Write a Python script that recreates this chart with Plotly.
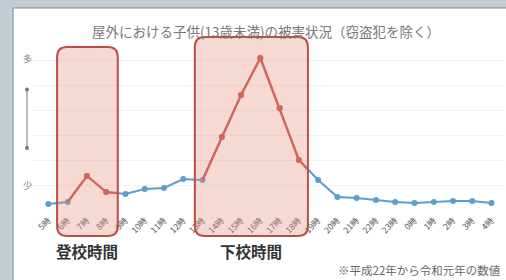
import numpy as np
import plotly.graph_objects as go

hours = ["5時", "6時", "7時", "8時", "9時", "10時", "11時", "12時", "13時", "14時", "15時", "16時",
         "17時", "18時", "19時", "20時", "21時", "22時", "23時", "0時", "1時", "2時", "3時", "4時"]
victims = [6, 8, 34, 18, 16, 21, 22, 31, 30, 73, 115, 152,
           102, 50, 30, 13, 12, 10, 8, 7, 8, 9, 9, 7]
title_text = "屋外における子供(13歳未満)の被害状況（窃盗犯を除く）"

W, H = 506, 280
ML, MR, MT, MB = 33, 1, 35, 72
XMIN, XMAX = -0.8, 23.7
YMIN, YMAX = 2, 175
PW, PH = W - ML - MR, H - MT - MB

idx = np.arange(len(hours))
vals = np.array(victims, dtype=float)

def fx(x):  # data x -> paper
    return (x - XMIN) / (XMAX - XMIN)

def px(x):  # pixel x -> paper
    return (x - ML) / PW

def py(y):  # pixel y -> paper
    return (H - MB - y) / PH

# highlight windows (in hour-index units)
morning = (0.45, 3.6)
evening = (7.6, 13.47)

def red_segment(a, b, start_idx, end_idx):
    xs = [a] if a < start_idx else []
    xs += list(range(start_idx, end_idx + 1))
    if b > end_idx:
        xs.append(b)
    xs = np.array(xs, dtype=float)
    return xs, np.interp(xs, idx, vals)

blue = "#5f9ec8"
red = "#d2473c"

fig = go.Figure()
fig.add_trace(go.Scatter(x=idx, y=vals, mode="lines+markers",
                         line=dict(color=blue, width=2.2),
                         marker=dict(color=blue, size=6), hoverinfo="skip"))
mx, my = red_segment(1, morning[1], 1, 3)
fig.add_trace(go.Scatter(x=mx, y=my, mode="lines", line=dict(color=red, width=2.2), hoverinfo="skip"))
fig.add_trace(go.Scatter(x=idx[2:4], y=vals[2:4], mode="markers", marker=dict(color=red, size=6), hoverinfo="skip"))
ex, ey = red_segment(8, evening[1], 8, 13)
fig.add_trace(go.Scatter(x=ex, y=ey, mode="lines", line=dict(color=red, width=2.2), hoverinfo="skip"))
fig.add_trace(go.Scatter(x=idx[9:14], y=vals[9:14], mode="markers", marker=dict(color=red, size=6), hoverinfo="skip"))

def rounded_rect(x0, x1, y0, y1, rx, ry):
    return (f"M {x0+rx},{y0} L {x1-rx},{y0} Q {x1},{y0} {x1},{y0+ry} "
            f"L {x1},{y1-ry} Q {x1},{y1} {x1-rx},{y1} L {x0+rx},{y1} "
            f"Q {x0},{y1} {x0},{y1-ry} L {x0},{y0+ry} Q {x0},{y0} {x0+rx},{y0} Z")

shapes = [
    dict(type="rect", xref="paper", yref="paper", x0=px(0), x1=px(W), y0=py(H), y1=py(0),
         fillcolor="#c3ccd4", line_width=0, layer="below"),
    dict(type="rect", xref="paper", yref="paper", x0=px(13), x1=px(W + 2), y0=py(H + 2), y1=py(8),
         fillcolor="white", line=dict(color="#7f8a93", width=1), layer="below"),
]
for (a, b), top_px in ((morning, 47), (evening, 37)):
    x0p, x1p = fx(a), fx(b)
    y1p, y0p = py(top_px), py(236)
    path = rounded_rect(x0p, x1p, y0p, y1p, 10 / PW, 10 / PH)
    shapes.append(dict(type="path", xref="paper", yref="paper", path=path,
                       fillcolor="rgba(234,150,135,0.36)", line=dict(color="#bb4f45", width=2),
                       layer="above"))

def note(text, x, y, size, color, xanchor="center"):
    return dict(text=text, x=x, y=y, xref="paper", yref="paper", showarrow=False,
                xanchor=xanchor, yanchor="middle", font=dict(size=size, color=color))

annotations = [
    note(title_text, px(266), py(31), 13.5, "#777777"),
    note("多", px(27), py(58), 9, "#888888"),
    note("少", px(27), py(185), 9, "#888888"),
    dict(text="", x=px(27), y=py(148), ax=0, ay=-60, xref="paper", yref="paper",
         axref="pixel", ayref="pixel", showarrow=True, arrowhead=6, startarrowhead=6,
         arrowside="end+start", arrowsize=1, arrowwidth=1, arrowcolor="#777777"),
    note("<b>登校時間</b>", fx((morning[0] + morning[1]) / 2), py(251), 15.5, "#333333"),
    note("<b>下校時間</b>", fx((evening[0] + evening[1]) / 2), py(251), 15.5, "#333333"),
    note("※平成22年から令和元年の数値", px(503), py(270), 11.5, "#666666", xanchor="right"),
]

fig.update_layout(
    width=W, height=H, margin=dict(l=ML, r=MR, t=MT, b=MB),
    paper_bgcolor="white", plot_bgcolor="rgba(0,0,0,0)",
    showlegend=False, shapes=shapes, annotations=annotations,
    font=dict(family="Noto Sans CJK JP, sans-serif"),
    xaxis=dict(range=[XMIN, XMAX], tickmode="array", tickvals=idx, ticktext=hours,
               tickangle=-45, tickfont=dict(size=8.5, color="#555555"), showgrid=False,
               zeroline=False, showline=False, ticks="", ticklabelstandoff=5),
    yaxis=dict(range=[YMIN, YMAX], showticklabels=False, showgrid=True, gridcolor="#f1f1f1",
               dtick=25, zeroline=False, showline=False, ticks=""),
)
fig.write_html("out.html", config={"displayModeBar": False},
               post_script="document.body.style.margin='0';document.body.style.overflow='hidden';")
